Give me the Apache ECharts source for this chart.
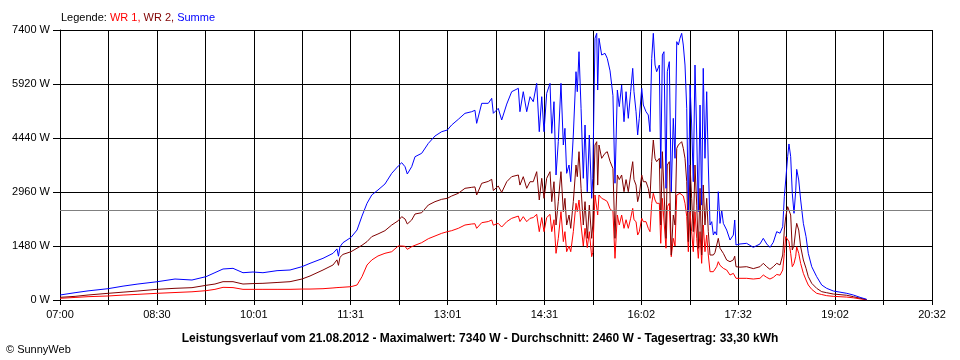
<!DOCTYPE html>
<html><head><meta charset="utf-8">
<script src="https://cdn.jsdelivr.net/npm/echarts@6/dist/echarts.min.js"></script>
<style>html,body{margin:0;padding:0;background:#fff}#c{width:960px;height:360px}</style>
</head><body><div id="c"></div>
<script>
// time of each sample, in minutes after 07:00
const minutesAfter0700 = [
0,14.0,26.1,44.7,58.7,72.6,90.3,107.1,122.9,136.0,144.3,151.8,161.1,170.4,179.7,189.0,202.1,214.2,225.3,232.8,
244.9,254.2,257.9,259.3,260.7,263.5,271.0,276.6,281.2,285.9,290.3,296.1,302.6,308.9,315.0,318.2,321.3,323.4,327.5,330.6,
336.8,343.0,349.2,355.4,360.7,364.7,370.9,377.1,383.4,386.4,388.0,392.7,398.8,402.0,403.5,408.1,411.3,416.0,420.6,422.1,
426.8,428.3,431.4,434.6,437.7,440.7,443.9,446.3,448.6,450.7,453.2,456.3,457.9,460.0,461.9,464.0,466.5,468.7,470.2,471.8,
474.0,475.6,478.0,480.5,481.7,483.3,485.2,487.3,488.9,491.0,492.9,495.1,496.1,498.2,499.8,500.7,501.9,504.4,507.5,509.6,
512.2,514.9,516.8,519.0,520.8,523.0,525.2,527.1,529.2,531.4,533.3,534.5,536.4,537.9,539.4,541.7,543.2,545.7,547.8,549.4,
551.0,552.5,554.1,555.6,558.1,559.4,560.9,562.4,564.3,565.5,567.4,569.2,571.1,572.7,574.3,575.8,577.3,578.9,580.4,582.0,
583.6,585.1,586.7,588.2,589.7,591.3,592.9,594.4,596.0,597.5,599.0,600.6,602.2,603.7,605.3,606.9,608.4,609.9,611.5,613.0,
614.6,616.2,617.7,620.8,623.9,627.0,628.3,629.5,633.2,639.4,645.6,651.8,654.9,658.1,661.1,664.2,667.4,670.5,673.0,674.5,
675.8,677.6,678.8,680.4,681.9,683.5,685.1,686.0,687.9,689.7,692.2,694.7,696.8,700.0,704.6,709.3,713.9,720.1,732.6,738.7,
745.0,751.2
];
const summe = [
137,200,250,310,380,438,500,575,548,640,750,850,868,748,767,748,804,822,913,1005,
1142,1279,1400,1200,1461,1571,1717,1918,2300,2650,2878,3015,3179,3472,3672,3763,3653,3453,3653,3927,
4020,4293,4495,4613,4659,4796,4952,5116,5161,5200,4842,5390,5390,5527,5116,5253,4933,5370,5709,5664,
5801,5161,5709,5161,5572,5435,5938,4613,5572,4613,5664,5938,4568,5435,3426,4339,5938,4248,4705,3472,
3700,3242,4522,6257,5709,6805,5253,3335,4796,2968,4522,2787,3335,7172,7309,5755,7172,6714,6760,6623,
6280,5600,3200,5755,5300,5892,4887,5709,4979,5709,6349,5709,5161,4522,4979,5801,5344,5161,5070,4613,
6623,7309,6440,6257,6440,3608,6714,6805,3061,6257,6532,2968,4979,3883,7080,6988,7172,7309,6988,6440,
5253,2421,5892,4796,3242,6440,4522,2421,5344,2600,6349,3883,5709,3700,2055,2147,1781,1873,1781,2968,
2100,2466,2101,1918,1644,1780,2193,1507,1535,1553,1443,1535,1690,1535,1443,1580,1873,1830,2010,2832,
3289,3928,4276,3928,2924,2376,3000,3581,3289,2741,2101,1736,1279,913,640,411,320,247,183,137,
73,18
];
const wr2 = [
73,100,137,183,215,247,292,320,338,402,438,502,502,438,450,457,480,502,575,658,
822,959,1100,950,1169,1250,1324,1420,1500,1600,1736,1809,1900,2055,2174,2284,2220,2083,2193,2357,
2393,2604,2695,2759,2787,2850,2924,3061,3088,3100,2878,3198,3250,3307,3000,3124,2950,3242,3380,3380,
3426,3150,3380,3061,3242,3242,3517,2741,3335,2787,3335,3517,2695,3242,2055,2695,3517,2420,2787,2055,
2330,1964,2695,3700,3380,4065,3061,2055,2695,1690,2600,1690,2055,4248,4339,3150,4248,3883,4020,4065,
3800,3600,1690,3426,3300,3426,2968,3300,2968,3426,3791,3300,3150,2695,2880,3426,3242,3242,3061,2787,
3791,4385,3883,3791,3883,2055,4065,4020,1690,3700,3791,1233,2330,2055,4157,4248,4294,4339,4157,3883,
3242,1599,3700,2787,1873,3700,2600,1416,3061,1233,3152,2055,2787,1873,1233,1279,1233,1300,1279,1690,
1420,1400,1279,1096,1050,1100,1200,913,900,913,860,913,1005,913,840,913,1005,960,1233,1918,
2284,2558,2520,2330,1370,1500,1918,2101,1918,1461,1096,868,640,457,320,228,200,164,130,91,
50,10
];
const wr1 = [
46,70,91,110,135,155,183,205,225,256,292,347,340,292,292,292,292,292,300,300,
310,330,340,340,345,350,365,411,639,959,1096,1206,1280,1324,1480,1480,1470,1389,1461,1500,
1571,1680,1754,1827,1873,1900,1964,2055,2083,2090,1964,2119,2150,2193,2050,2101,2000,2147,2238,2284,
2300,2150,2284,2147,2238,2260,2348,1873,2260,1873,2260,2348,1873,2200,1279,1690,2421,1600,1873,1324,
1480,1324,1873,2650,2421,2741,2055,1480,1964,1435,1873,1187,1300,2878,2924,2330,2878,2787,2741,2700,
2500,2420,1142,2330,2055,2329,1964,2200,1964,2240,2512,2200,2147,1781,1870,2240,2147,2147,1964,1873,
2650,2924,2741,2650,2650,1553,2787,2787,1420,2558,2650,1187,1690,1480,2878,2924,2924,2924,2850,2650,
2290,1324,2421,1873,1324,2421,1690,1142,1873,1005,2055,1324,1780,1233,776,731,776,731,913,1050,
950,1000,868,822,685,730,780,594,594,594,575,594,685,620,575,620,700,680,822,1279,
1736,1700,1600,1279,913,1000,1200,1461,1279,1000,731,548,411,292,183,150,119,100,80,60,
30,5
];
const xTickLabels = ['07:00','08:30','10:01','11:31','13:01','14:31','16:02','17:32','19:02','20:32'];
const xSpanMinutes = 812;
const yMax = 7400;
const yStep = 1480;
const averageW = 2460;
const legendNames = ['WR 1', 'WR 2', 'Summe'];
const footerText = 'Leistungsverlauf vom 21.08.2012 - Maximalwert: 7340 W - Durchschnitt: 2460 W - Tagesertrag: 33,30 kWh';
const copyrightText = '© SunnyWeb';

const FONT = '"Liberation Sans", Arial, sans-serif';
const colors = ['#ff0000', '#800000', '#0000ff'];
const pairs = vals => minutesAfter0700.map((t, i) => [t, vals[i]]);
const xInterval = xSpanMinutes / 18;
const rt = (c) => ({fontFamily: FONT, fontSize: 11, fontWeight: 'normal', color: c});

const chart = echarts.init(document.getElementById('c'), null, {renderer: 'canvas'});
chart.setOption({
  animation: false,
  backgroundColor: '#ffffff',
  textStyle: {fontFamily: FONT},
  title: [
    {
      left: 56, top: 7,
      text: '{k|Legende: }{a|' + legendNames[0] + ', }{b|' + legendNames[1] + ', }{c|' + legendNames[2] + '}',
      textStyle: {
        fontWeight: 'normal', fontSize: 11,
        rich: {k: rt('#000'), a: rt(colors[0]), b: rt(colors[1]), c: rt(colors[2])}
      }
    },
    {
      left: 'center', top: 328, text: footerText,
      textStyle: {fontFamily: FONT, fontSize: 12, fontWeight: 'bold', color: '#000'}
    },
    {
      left: 1, top: 339, text: copyrightText,
      textStyle: {fontFamily: FONT, fontSize: 11, fontWeight: 'normal', color: '#000'}
    }
  ],
  grid: {left: 60, right: 28, top: 30, bottom: 60, containLabel: false},
  xAxis: {
    type: 'value', min: 0, max: xSpanMinutes, interval: xInterval,
    axisLine: {show: true, lineStyle: {color: '#000', width: 1}},
    axisTick: {show: true, length: 5, inside: false, lineStyle: {color: '#000'}},
    splitLine: {show: true, lineStyle: {color: '#000', width: 1}},
    axisLabel: {
      margin: 9, color: '#000', fontFamily: FONT, fontSize: 11,
      formatter: (v) => {
        const idx = Math.round(v / xInterval);
        return idx % 2 === 0 ? (xTickLabels[idx / 2] || '') : '';
      }
    }
  },
  yAxis: {
    type: 'value', min: 0, max: yMax, interval: yStep,
    axisLine: {show: true, lineStyle: {color: '#000', width: 1}},
    axisTick: {show: true, length: 7, inside: false, lineStyle: {color: '#000'}},
    splitLine: {show: true, lineStyle: {color: '#000', width: 1}},
    axisLabel: {margin: 10, color: '#000', fontFamily: FONT, fontSize: 11, formatter: (v) => v + ' W'}
  },
  series: [
    {
      name: legendNames[0], type: 'line', data: pairs(wr1), showSymbol: false,
      lineStyle: {color: colors[0], width: 1}, itemStyle: {color: colors[0]},
      markLine: {
        silent: true, symbol: ['none', 'none'], label: {show: false},
        lineStyle: {color: '#808080', width: 1, type: 'solid'},
        data: [{yAxis: averageW}]
      }
    },
    {
      name: legendNames[1], type: 'line', data: pairs(wr2), showSymbol: false,
      lineStyle: {color: colors[1], width: 1}, itemStyle: {color: colors[1]}
    },
    {
      name: legendNames[2], type: 'line', data: pairs(summe), showSymbol: false,
      lineStyle: {color: colors[2], width: 1}, itemStyle: {color: colors[2]}
    }
  ]
});
</script>
</body></html>
